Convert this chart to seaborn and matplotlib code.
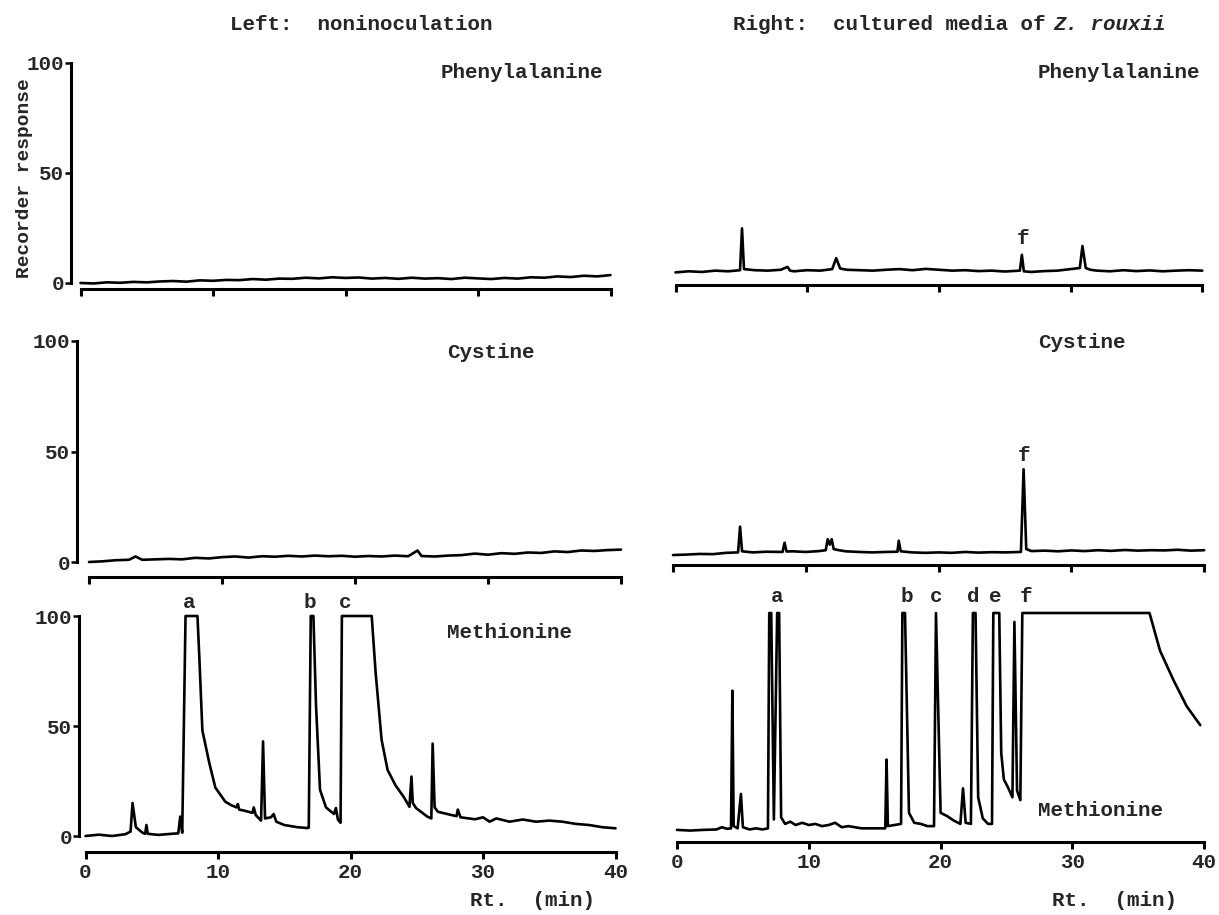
import matplotlib
matplotlib.use("Agg")
import matplotlib.pyplot as plt
import seaborn as sns

# ---------------- data (retention time [min], recorder response) ----------------
LT_T = [0, 1, 2, 3, 4, 5, 6, 7, 8, 9, 10, 11, 12, 13, 14, 15, 16, 17, 18, 19, 20,
        21, 22, 23, 24, 25, 26, 27, 28, 29, 30, 31, 32, 33, 34, 35, 36, 37, 38, 39, 40]
LT_V = [0.0, -0.2, 0.3, 0.1, 0.5, 0.3, 0.7, 0.9, 0.6, 1.2, 1.0, 1.4, 1.3, 1.8, 1.5, 2.0, 1.9, 2.4, 2.1, 2.6, 2.3,
        2.5, 2.0, 2.3, 1.9, 2.4, 2.0, 2.2, 1.8, 2.4, 2.1, 1.8, 2.3, 2.0, 2.6, 2.4, 3.0, 2.7, 3.3, 3.0, 3.6]

LM_T = [0, 1, 2, 3, 3.5, 4, 5, 6, 7, 8, 9, 10, 11, 12, 13, 14, 15, 16, 17, 18, 19, 20, 21, 22, 23, 24,
        24.7, 25, 26, 27, 28, 29, 30, 31, 32, 33, 34, 35, 36, 37, 38, 39, 40]
LM_V = [0.0, 0.3, 0.8, 1.0, 2.5, 1.0, 1.2, 1.4, 1.2, 1.9, 1.6, 2.2, 2.5, 2.0, 2.6, 2.4, 2.8, 2.5, 2.9, 2.6, 2.8,
        2.4, 2.7, 2.5, 2.9, 2.6, 5.2, 2.7, 2.5, 2.9, 3.1, 3.8, 3.3, 4.0, 3.7, 4.3, 4.1, 4.8, 4.5, 5.2, 5.0, 5.4, 5.6]

LB_T = [0.0, 1.0, 2.0, 3.0, 3.4, 3.55, 3.8, 4.3, 4.5, 4.6, 4.7, 5.5, 6.5, 7.0, 7.15, 7.3, 7.55, 7.65,
        8.45, 8.6, 8.82, 9.35, 9.8, 10.55, 11.0, 11.4, 11.5, 11.6, 12.0, 12.6, 12.7, 12.85, 13.25, 13.4,
        13.55, 14.0, 14.2, 14.4, 15.0, 16.0, 16.75, 16.85, 17.0, 17.2, 17.4, 17.7, 18.15, 18.75, 18.9,
        19.05, 19.25, 19.35, 21.6, 21.9, 22.35, 22.8, 23.4, 24.0, 24.45, 24.6, 24.7, 24.95, 25.8, 26.1,
        26.2, 26.35, 26.6, 27.3, 28.0, 28.1, 28.3, 29.4, 30.0, 30.5, 31.0, 32.0, 33.0, 34.0, 35.0, 36.0,
        37.0, 38.0, 39.0, 40.0]
LB_V = [0.0, 0.6, 0.0, 0.8, 2.0, 15.0, 4.0, 1.5, 1.0, 5.0, 1.0, 0.5, 1.0, 1.2, 8.8, 1.5, 100, 100,
        100, 80, 48, 33, 22, 15.6, 14.0, 13.0, 14.5, 12.0, 11.5, 10.5, 13.0, 9.5, 7.0, 43.0,
        8.0, 8.5, 10.0, 6.5, 5.0, 4.0, 3.6, 3.8, 100, 100, 59, 21, 13, 10, 12.7,
        7.5, 6.0, 100, 100, 74, 43.6, 30, 23, 17.9, 13.3, 27, 15, 12.7, 8.8, 8.0,
        42, 13, 11, 10, 9, 12, 8.5, 7.6, 8.5, 6.5, 8.0, 6.5, 7.5, 6.5, 7.0, 6.5,
        5.5, 5.0, 4.0, 3.5]

RT_T = [0, 1, 2, 3, 4, 4.9, 5.05, 5.2, 6, 7, 8, 8.5, 8.7, 9, 10, 11, 11.9, 12.2, 12.5,
        13, 14, 15, 16, 17, 18, 19, 20, 21, 22, 23, 24, 25, 26.15, 26.3, 26.45, 27, 28, 29, 30,
        30.7, 30.9, 31.15, 31.5, 32, 33, 34, 35, 36, 37, 38, 39, 40]
RT_V = [3.0, 3.5, 3.2, 3.8, 3.5, 4.0, 23, 4.5, 4.0, 3.8, 4.2, 5.5, 3.8, 3.5, 4.0, 3.8, 4.5, 9.5, 4.8,
        4.2, 4.0, 3.8, 4.2, 4.5, 4.0, 4.6, 4.2, 3.8, 4.0, 3.6, 3.8, 3.4, 3.8, 11, 3.5, 3.2, 3.6, 3.8, 4.5,
        5.0, 15, 5.0, 4.2, 3.8, 3.5, 4.0, 3.6, 3.9, 3.5, 3.8, 4.0, 3.8]

RM_T = [0, 1, 2, 3, 4, 4.9, 5.05, 5.2, 6, 7, 8.25, 8.4, 8.55, 9, 10, 11, 11.5, 11.65, 11.8, 11.95,
        12.1, 12.5, 13, 14, 15, 16, 16.9, 17.0, 17.15, 18, 19, 20, 21, 22, 23, 24, 25, 26.2, 26.4,
        26.6, 27, 28, 29, 30, 31, 32, 33, 34, 35, 36, 37, 38, 39, 40]
RM_V = [1.8, 2.0, 2.3, 2.2, 2.8, 3.0, 14.7, 3.5, 3.0, 3.3, 3.2, 7.4, 3.4, 3.5, 3.2, 3.6, 4.0, 9.0, 6.5, 9.0,
        4.5, 4.0, 3.5, 3.2, 3.0, 3.2, 3.3, 8.3, 3.5, 3.0, 2.8, 3.0, 2.8, 3.2, 2.9, 3.1, 3.0, 3.2, 40.8,
        4.5, 3.6, 3.8, 3.5, 3.9, 3.6, 4.0, 3.7, 4.1, 3.8, 4.0, 3.9, 4.2, 3.8, 4.0]

RB_T = [0.0, 1.0, 2.0, 3.0, 3.4, 3.8, 4.1, 4.2, 4.3, 4.6, 4.85, 5.0, 5.5, 6.0, 6.5, 6.9, 7.0, 7.15,
        7.35, 7.6, 7.75, 7.9, 8.2, 8.6, 9.0, 9.5, 10.0, 10.5, 11.0, 11.5, 12.0, 12.5, 13.0, 13.5, 14.0,
        15.0, 15.8, 15.9, 16.0, 16.5, 17.0, 17.1, 17.3, 17.6, 18.0, 18.5, 19.0, 19.5, 19.65, 20.0,
        20.5, 21.0, 21.5, 21.7, 21.9, 22.3, 22.45, 22.65, 22.85, 23.2, 23.6, 23.9, 24.0, 24.45, 24.6,
        24.8, 25.1, 25.45, 25.6, 25.8, 26.05, 26.2, 35.85, 36.65, 37.65, 38.67, 39.7]
RB_V = [2.3, 2.0, 2.3, 2.5, 3.5, 2.8, 3.0, 65, 4.0, 3.0, 18.5, 3.5, 2.5, 3.0, 2.5, 3.0, 100, 100,
        7, 100, 100, 8, 5, 6, 4.5, 5.5, 4.5, 5.0, 4.0, 4.5, 5.5, 3.5, 4.0, 3.5, 3.0,
        3.0, 3.0, 34, 4, 4.5, 5.0, 100, 100, 10, 5.5, 5.0, 4.0, 4.0, 100, 10,
        8.5, 6.5, 5.0, 21, 5.5, 5.0, 100, 100, 17, 7.5, 5.0, 5.0, 100, 100, 37,
        25, 21.6, 17, 96, 20, 15.7, 100, 100, 83, 70, 58, 49.5]

Y_TICKS = [0, 50, 100]
X_TICKS = [0, 10, 20, 30, 40]
LEFT_LETTERS = ["a", "b", "c"]
LEFT_LETTER_T = [7.8, 16.9, 19.6]
RIGHT_LETTERS = ["a", "b", "c", "d", "e", "f"]
RIGHT_LETTER_T = [7.6, 17.4, 19.65, 22.45, 24.15, 26.5]

# ---------------- style ----------------
sns.set_style("ticks")
plt.rcParams["font.family"] = ["Liberation Mono", "DejaVu Sans Mono"]
plt.rcParams["font.weight"] = "bold"
FS = 15

W, H = 1219, 915
fig = plt.figure(figsize=(W / 100, H / 100), dpi=100)
XL = (-1.5, 41.0)
YL = (-8.0, 108.0)


def make_axes(x0, ppm, y0, ppu):
    left = x0 + XL[0] * ppm
    right = x0 + XL[1] * ppm
    bottom = y0 - YL[0] * ppu
    top = y0 - YL[1] * ppu
    ax = fig.add_axes([left / W, 1 - bottom / H, (right - left) / W, (bottom - top) / H])
    ax.set_xlim(*XL)
    ax.set_ylim(*YL)
    ax.patch.set_alpha(0)
    return ax


def style(ax, bar_v, spine_t=None, xlabels=False):
    for s in ("top", "right"):
        ax.spines[s].set_visible(False)
    b = ax.spines["bottom"]
    b.set_position(("data", bar_v))
    b.set_bounds(0, 40)
    b.set_linewidth(2.2)
    b.set_color("black")
    ax.set_xticks(X_TICKS)
    ax.tick_params(axis="x", direction="out", length=5, width=2.2, color="black",
                   labelbottom=xlabels, labelsize=FS, pad=3)
    if spine_t is None:
        ax.spines["left"].set_visible(False)
        ax.set_yticks([])
    else:
        l = ax.spines["left"]
        l.set_position(("data", spine_t))
        l.set_bounds(0, 100)
        l.set_linewidth(2.2)
        l.set_color("black")
        ax.set_yticks(Y_TICKS)
        ax.tick_params(axis="y", direction="out", length=4, width=1.8, color="black",
                       labelsize=FS, pad=1)
    ax.set_xlabel("")
    ax.set_ylabel("")


def trace(ax, t, v):
    assert len(t) == len(v)
    sns.lineplot(x=t, y=v, ax=ax, color="black", linewidth=1.9, estimator=None,
                 sort=False, legend=False)


# left column
ax_lt = make_axes(80.5, 13.25, 283, 2.2)
trace(ax_lt, LT_T, LT_V)
style(ax_lt, -2.7, -0.72)

ax_lm = make_axes(89, 13.3, 562, 2.21)
trace(ax_lm, LM_T, LM_V)
style(ax_lm, -6.8, -0.9)

ax_lb = make_axes(85.5, 13.25, 836, 2.2)
trace(ax_lb, LB_T, LB_V)
style(ax_lb, -7.3, -0.5, xlabels=True)

# right column
ax_rt = make_axes(675.5, 13.17, 279, 2.2)
trace(ax_rt, RT_T, RT_V)
style(ax_rt, -2.7)

ax_rm = make_axes(673, 13.28, 559, 2.2)
trace(ax_rm, RM_T, RM_V)
style(ax_rm, -2.7)

ax_rb = make_axes(677, 13.18, 835, 2.22)
trace(ax_rb, RB_T, RB_V)
style(ax_rb, -3.2, xlabels=True)

# peak letters
for lab, t in zip(LEFT_LETTERS, LEFT_LETTER_T):
    ax_lb.text(t, 106, lab, ha="center", va="center", fontsize=FS)
for lab, t in zip(RIGHT_LETTERS, RIGHT_LETTER_T):
    ax_rb.text(t, 107.5, lab, ha="center", va="center", fontsize=FS)
ax_rt.text(26.4, 18.6, "f", ha="center", va="center", fontsize=FS)
ax_rm.text(26.4, 47, "f", ha="center", va="center", fontsize=FS)


def ftext(x, y, s, **kw):
    fig.text(x / W, 1 - y / H, s, fontsize=kw.pop("fontsize", FS), **kw)


# headers
ftext(361, 25, "Left:  noninoculation", ha="center", va="center")
fig.text(733 / W, 1 - 25 / H, "Right:  cultured media of ", fontsize=FS, ha="left", va="center")
fig.text(1166 / W, 1 - 25 / H, "Z. rouxii", fontsize=FS, ha="right", va="center", style="italic")

# panel names
ftext(603, 73, "Phenylalanine", ha="right", va="center")
ftext(1200, 73, "Phenylalanine", ha="right", va="center")
ftext(447, 353, "Cystine", ha="left", va="center")
ftext(1038, 343, "Cystine", ha="left", va="center")
ftext(447, 632, "Methionine", ha="left", va="center")
ftext(1038, 810, "Methionine", ha="left", va="center")

# axis titles
ftext(25, 178, "Recorder response", ha="center", va="center", rotation=90, fontsize=14)
ftext(532, 900, "Rt.  (min)", ha="center", va="center")
ftext(1115, 900, "Rt.  (min)", ha="center", va="center")

fig.savefig("out.png", dpi=100, facecolor="white")
